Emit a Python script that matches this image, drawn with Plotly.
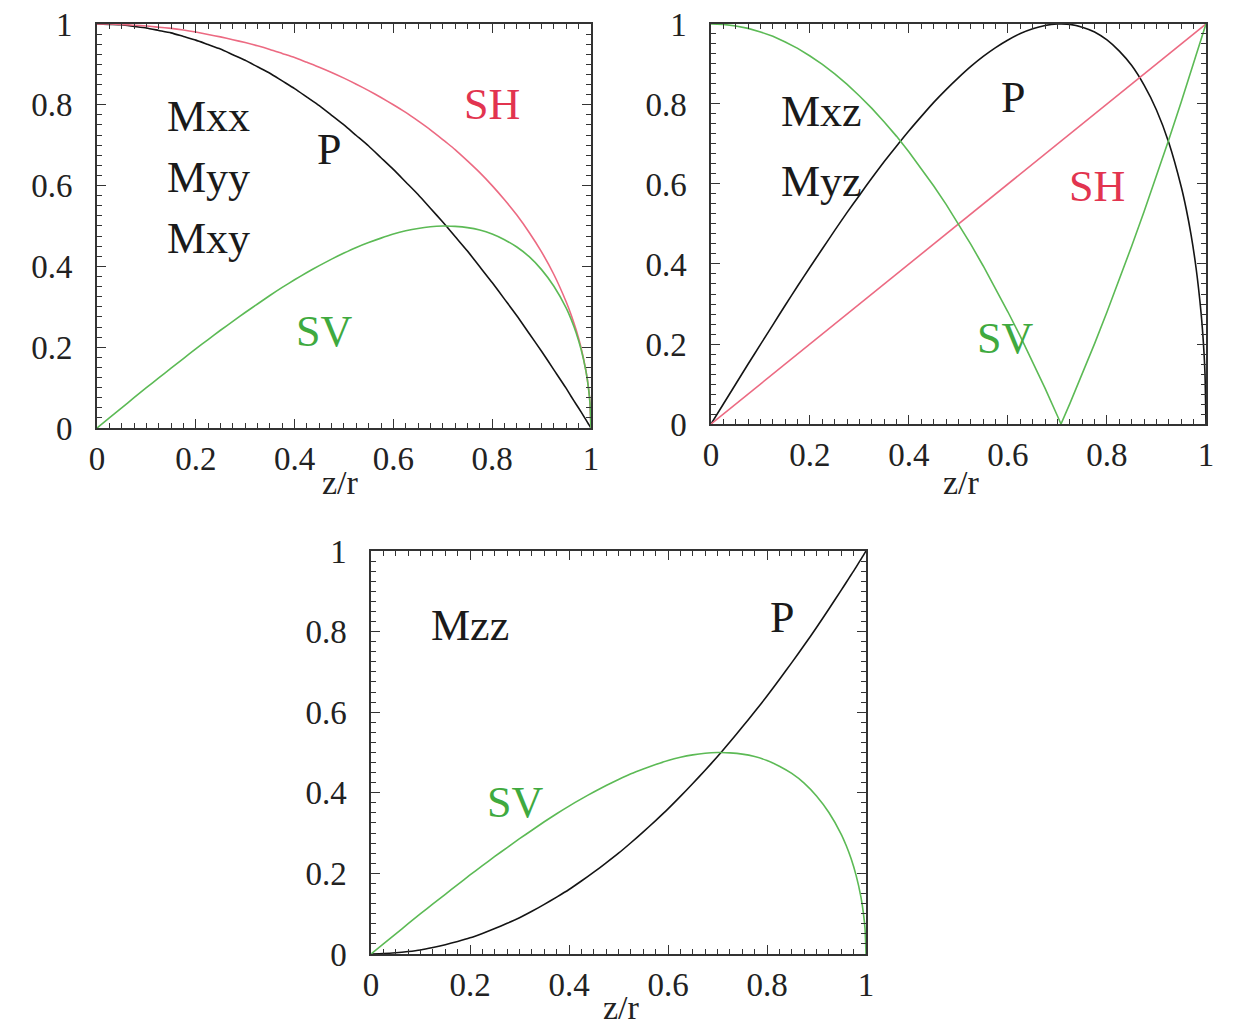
import plotly.graph_objects as go

# z/r sample positions read along the horizontal axis
z_vals = [0, 0.025, 0.05, 0.075, 0.1, 0.125, 0.15, 0.175, 0.2, 0.225, 0.25, 0.275,
          0.3, 0.325, 0.35, 0.375, 0.4, 0.425, 0.45, 0.475, 0.5, 0.525, 0.55, 0.575,
          0.6, 0.625, 0.65, 0.675, 0.7, 0.7071, 0.725, 0.75, 0.775, 0.8, 0.825, 0.85,
          0.875, 0.9, 0.925, 0.95, 0.96, 0.97, 0.98, 0.99, 0.995, 0.998, 1.0]

# Panel Mxx / Myy / Mxy
mxx_p = [1.0, 0.999, 0.998, 0.994, 0.99, 0.984, 0.978, 0.969, 0.96, 0.949, 0.938, 0.924,
         0.91, 0.894, 0.878, 0.859, 0.84, 0.819, 0.798, 0.774, 0.75, 0.724, 0.698, 0.669,
         0.64, 0.609, 0.578, 0.544, 0.51, 0.5, 0.474, 0.438, 0.399, 0.36, 0.319, 0.278,
         0.234, 0.19, 0.144, 0.098, 0.078, 0.059, 0.04, 0.02, 0.01, 0.004, 0.0]
mxx_sh = [1.0, 1.0, 0.999, 0.997, 0.995, 0.992, 0.989, 0.985, 0.98, 0.974, 0.968, 0.961,
          0.954, 0.946, 0.937, 0.927, 0.917, 0.905, 0.893, 0.88, 0.866, 0.851, 0.835, 0.818,
          0.8, 0.781, 0.76, 0.738, 0.714, 0.707, 0.689, 0.661, 0.632, 0.6, 0.565, 0.527,
          0.484, 0.436, 0.38, 0.312, 0.28, 0.243, 0.199, 0.141, 0.1, 0.063, 0.0]
mxx_sv = [0.0, 0.025, 0.05, 0.075, 0.1, 0.124, 0.148, 0.172, 0.196, 0.219, 0.242, 0.264,
          0.286, 0.307, 0.328, 0.348, 0.367, 0.385, 0.402, 0.418, 0.433, 0.447, 0.459, 0.47,
          0.48, 0.488, 0.494, 0.498, 0.5, 0.5, 0.499, 0.496, 0.49, 0.48, 0.466, 0.448,
          0.424, 0.392, 0.351, 0.297, 0.269, 0.236, 0.195, 0.14, 0.099, 0.063, 0.0]

# Panel Mxz / Myz
mxz_p = [0.0, 0.05, 0.1, 0.15, 0.199, 0.248, 0.297, 0.345, 0.392, 0.438, 0.484, 0.529,
         0.572, 0.615, 0.656, 0.695, 0.733, 0.769, 0.804, 0.836, 0.866, 0.894, 0.919, 0.941,
         0.96, 0.976, 0.988, 0.996, 1.0, 1.0, 0.999, 0.992, 0.98, 0.96, 0.932, 0.896,
         0.847, 0.785, 0.703, 0.593, 0.538, 0.472, 0.39, 0.279, 0.199, 0.126, 0.0]
mxz_sh = [0.0, 0.025, 0.05, 0.075, 0.1, 0.125, 0.15, 0.175, 0.2, 0.225, 0.25, 0.275,
          0.3, 0.325, 0.35, 0.375, 0.4, 0.425, 0.45, 0.475, 0.5, 0.525, 0.55, 0.575,
          0.6, 0.625, 0.65, 0.675, 0.7, 0.707, 0.725, 0.75, 0.775, 0.8, 0.825, 0.85,
          0.875, 0.9, 0.925, 0.95, 0.96, 0.97, 0.98, 0.99, 0.995, 0.998, 1.0]
mxz_sv = [1.0, 0.999, 0.995, 0.989, 0.98, 0.969, 0.955, 0.939, 0.92, 0.899, 0.875, 0.849,
          0.82, 0.789, 0.755, 0.719, 0.68, 0.639, 0.595, 0.549, 0.5, 0.449, 0.395, 0.339,
          0.28, 0.219, 0.155, 0.089, 0.02, 0.0, 0.051, 0.125, 0.201, 0.28, 0.361, 0.445,
          0.531, 0.62, 0.711, 0.805, 0.843, 0.882, 0.921, 0.96, 0.98, 0.992, 1.0]

# Panel Mzz
mzz_p = [0.0, 0.001, 0.003, 0.006, 0.01, 0.016, 0.023, 0.031, 0.04, 0.051, 0.063, 0.076,
         0.09, 0.106, 0.123, 0.141, 0.16, 0.181, 0.203, 0.226, 0.25, 0.276, 0.303, 0.331,
         0.36, 0.391, 0.423, 0.456, 0.49, 0.5, 0.526, 0.563, 0.601, 0.64, 0.681, 0.723,
         0.766, 0.81, 0.856, 0.903, 0.922, 0.941, 0.96, 0.98, 0.99, 0.996, 1.0]
mzz_sv = list(mxx_sv)

tick_vals = [0, 0.2, 0.4, 0.6, 0.8, 1]
tick_text = ["0", "0.2", "0.4", "0.6", "0.8", "1"]

BLACK = "#141414"
RED = "#ec6a82"
GREEN = "#5cba55"
RED_TXT = "#e2344f"
GREEN_TXT = "#3faa3f"
FONT = "Liberation Serif"

fig = go.Figure()

panels = [
    ("x", "y", [(mxx_p, BLACK, "spline"), (mxx_sh, RED, "spline"), (mxx_sv, GREEN, "spline")]),
    ("x2", "y2", [(mxz_p, BLACK, "spline"), (mxz_sh, RED, "linear"), (mxz_sv, GREEN, "linear")]),
    ("x3", "y3", [(mzz_p, BLACK, "spline"), (mzz_sv, GREEN, "spline")]),
]
for xa, ya, series in panels:
    for vals, col, shape in series:
        fig.add_trace(go.Scatter(x=z_vals, y=vals, mode="lines", xaxis=xa, yaxis=ya,
                                 line=dict(color=col, width=1.6, shape=shape,
                                           smoothing=0.6 if shape == "spline" else None),
                                 showlegend=False, hoverinfo="skip"))

# page has an 8px body margin, so panel pixel positions are offset by -8
domains = [
    ([0.0721, 0.4724], [0.5922, 0.9845]),
    ([0.5697, 0.9708], [0.5961, 0.9845]),
    ([0.2942, 0.6953], [0.0816, 0.4728]),
]

def axis_common():
    return dict(range=[0, 1], tickmode="array", tickvals=tick_vals, ticktext=tick_text,
                ticks="inside", ticklen=9, tickwidth=1.3, tickcolor="#333",
                showline=True, linecolor="#333", linewidth=1.5, mirror="allticks",
                showgrid=False, zeroline=False, fixedrange=True, automargin=False,
                ticklabeloverflow="allow",
                tickfont=dict(family=FONT, size=33, color="#222"),
                minor=dict(dtick=0.025, tick0=0, ticks="inside", ticklen=5,
                           tickwidth=1.1, tickcolor="#333", showgrid=False))

layout = dict(width=1234, height=1030,
              margin=dict(l=0, r=0, t=0, b=0, pad=0, autoexpand=False),
              paper_bgcolor="white", plot_bgcolor="white", showlegend=False)
names = [("xaxis", "yaxis", "y", "x"), ("xaxis2", "yaxis2", "y2", "x2"),
         ("xaxis3", "yaxis3", "y3", "x3")]
for (xn, yn, anc_y, anc_x), (dx, dy) in zip(names, domains):
    xa = axis_common()
    xa.update(domain=dx, anchor=anc_y, ticklabelstandoff=1)
    ya = axis_common()
    ya.update(domain=dy, anchor=anc_x, ticklabelstandoff=16)
    layout[xn] = xa
    layout[yn] = ya
fig.update_layout(**layout)

def label(text, x, y, xref, yref, color="#1a1a1a", size=44):
    fig.add_annotation(text=text, x=x, y=y, xref=xref, yref=yref, showarrow=False,
                       font=dict(family=FONT, size=size, color=color),
                       xanchor="center", yanchor="middle")

# Panel 1 labels
label("Mxx", 0.225, 0.77, "x", "y")
label("Myy", 0.225, 0.62, "x", "y")
label("Mxy", 0.225, 0.47, "x", "y")
label("P", 0.47, 0.69, "x", "y")
label("SH", 0.80, 0.80, "x", "y", RED_TXT)
label("SV", 0.46, 0.24, "x", "y", GREEN_TXT)
label("z/r", 0.492, -0.136, "x domain", "y domain", "#222", 34)

# Panel 2 labels
label("Mxz", 0.224, 0.78, "x2", "y2")
label("Myz", 0.224, 0.605, "x2", "y2")
label("P", 0.61, 0.816, "x2", "y2")
label("SH", 0.78, 0.593, "x2", "y2", RED_TXT)
label("SV", 0.594, 0.213, "x2", "y2", GREEN_TXT)
label("z/r", 0.507, -0.146, "x2 domain", "y2 domain", "#222", 34)

# Panel 3 labels
label("Mzz", 0.2, 0.816, "x3", "y3")
label("P", 0.83, 0.834, "x3", "y3")
label("SV", 0.29, 0.375, "x3", "y3", GREEN_TXT)
label("z/r", 0.507, -0.133, "x3 domain", "y3 domain", "#222", 34)

fig.write_html("out.html")
